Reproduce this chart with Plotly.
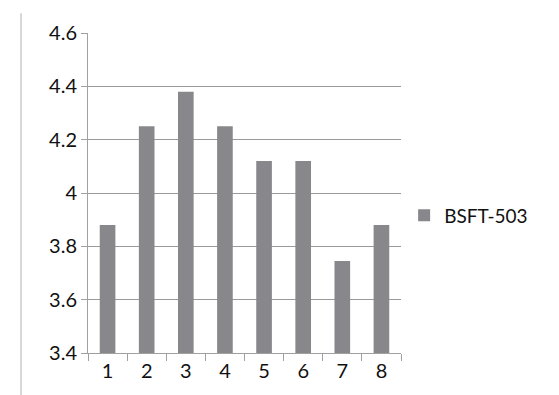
import plotly.graph_objects as go

categories = ["1", "2", "3", "4", "5", "6", "7", "8"]
values = [3.88, 4.25, 4.38, 4.25, 4.12, 4.12, 3.745, 3.88]
series_name = "BSFT-503"
y_ticks = [3.4, 3.6, 3.8, 4.0, 4.2, 4.4, 4.6]
y_tick_labels = ["3.4", "3.6", "3.8", "4", "4.2", "4.4", "4.6"]

W, H = 559, 395
ml, mr, mt, mb = 80, 166, 20, 50

fig = go.Figure()
fig.add_trace(go.Bar(
    x=categories, y=values, name=series_name,
    marker=dict(color="#88888c", line=dict(width=0)),
    showlegend=True,
))

pw = W - ml - mr
ph = H - mt - mb
for xpix, ytop in [(13, H), (555, 200)]:
    fig.add_shape(type="line", xref="paper", yref="paper",
                  x0=(xpix - ml) / pw, x1=(xpix - ml) / pw,
                  y0=-(mb - 2) / ph, y1=(H - mt - (H - ytop)) / ph if ytop < H else (ph + mt) / ph,
                  line=dict(color="#b0b0b0", width=1), layer="below")

fig.update_layout(
    width=W, height=H,
    margin=dict(l=ml, r=mr, t=mt, b=mb),
    paper_bgcolor="white", plot_bgcolor="white",
    font=dict(family="Lato, Open Sans, sans-serif", size=20, color="#111111"),
    bargap=0.6,
    legend=dict(x=1.01, y=0.43, xanchor="left", yanchor="middle",
                font=dict(size=19), itemwidth=30),
    xaxis=dict(type="category", tickson="boundaries", ticks="outside",
               ticklen=7, tickcolor="#a0a0a0", showline=True,
               linecolor="#a0a0a0", linewidth=1, showgrid=False,
               tickfont=dict(size=20)),
    yaxis=dict(range=[3.4, 4.6], tickvals=y_ticks, ticktext=y_tick_labels,
               ticks="outside", ticklen=6, tickcolor="#a0a0a0",
               showline=True, linecolor="#a0a0a0", linewidth=1,
               showgrid=True, gridcolor="#9a9a9a", gridwidth=1,
               zeroline=False, tickfont=dict(size=20)),
)

fig.write_html("out.html")
